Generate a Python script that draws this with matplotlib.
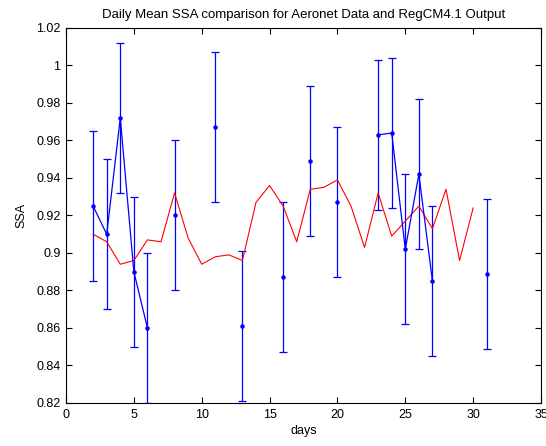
import numpy as np
import matplotlib
matplotlib.use("Agg")
import matplotlib.pyplot as plt

plt.rcParams['font.family'] = ['Liberation Sans', 'DejaVu Sans']

nan = np.nan

# Aeronet daily mean SSA (NaN where no observations -> gap in line)
aeronet_days = [2, 3, 4, 5, 6, 7, 8, 9, 11, 12, 13, 14, 16, 17, 18, 19, 20, 21,
                23, 24, 25, 26, 27, 28, 31]
aeronet_ssa = [0.925, 0.910, 0.972, 0.890, 0.860, nan, 0.920, nan, 0.967, nan,
               0.861, nan, 0.887, nan, 0.949, nan, 0.927, nan,
               0.963, 0.964, 0.902, 0.942, 0.885, nan, 0.889]
aeronet_err = [0.04] * len(aeronet_days)

# RegCM4.1 modelled daily SSA
model_days = list(range(2, 31))
model_ssa = [0.910, 0.906, 0.894, 0.896, 0.907, 0.906, 0.932, 0.908, 0.894,
             0.898, 0.899, 0.896, 0.927, 0.936, 0.925, 0.906, 0.934, 0.935,
             0.939, 0.925, 0.903, 0.932, 0.909, 0.917, 0.925, 0.913, 0.934,
             0.896, 0.924]

x_ticks = [0, 5, 10, 15, 20, 25, 30, 35]
y_ticks = [0.82, 0.84, 0.86, 0.88, 0.90, 0.92, 0.94, 0.96, 0.98, 1.00, 1.02]
y_tick_labels = ['0.82', '0.84', '0.86', '0.88', '0.9', '0.92', '0.94',
                 '0.96', '0.98', '1', '1.02']

fig = plt.figure(figsize=(5.46, 4.46), dpi=100)
ax = fig.add_axes([66 / 546, 43 / 446, 475 / 546, 375 / 446])

ax.errorbar(aeronet_days, aeronet_ssa, yerr=aeronet_err, color='#0000ff',
            marker='.', markersize=4.5, linewidth=0.9, elinewidth=0.9,
            capsize=3, capthick=0.9)
ax.plot(model_days, model_ssa, color='#ff0000', linewidth=0.8)

ax.set_xlim(0, 35)
ax.set_ylim(0.82, 1.02)
ax.set_xticks(x_ticks)
ax.set_yticks(y_ticks)
ax.set_yticklabels(y_tick_labels)
ax.tick_params(direction='in', length=4, width=0.8, top=True, right=True,
               labelsize=9, colors='black', pad=4)
for s in ax.spines.values():
    s.set_linewidth(0.8)

ax.set_title('Daily Mean SSA comparison for Aeronet Data and RegCM4.1 Output',
             fontsize=9.5, pad=7)
ax.set_xlabel('days', fontsize=9, labelpad=3)
ax.set_ylabel('SSA', fontsize=9, labelpad=6)

fig.savefig('out.png', dpi=100)
